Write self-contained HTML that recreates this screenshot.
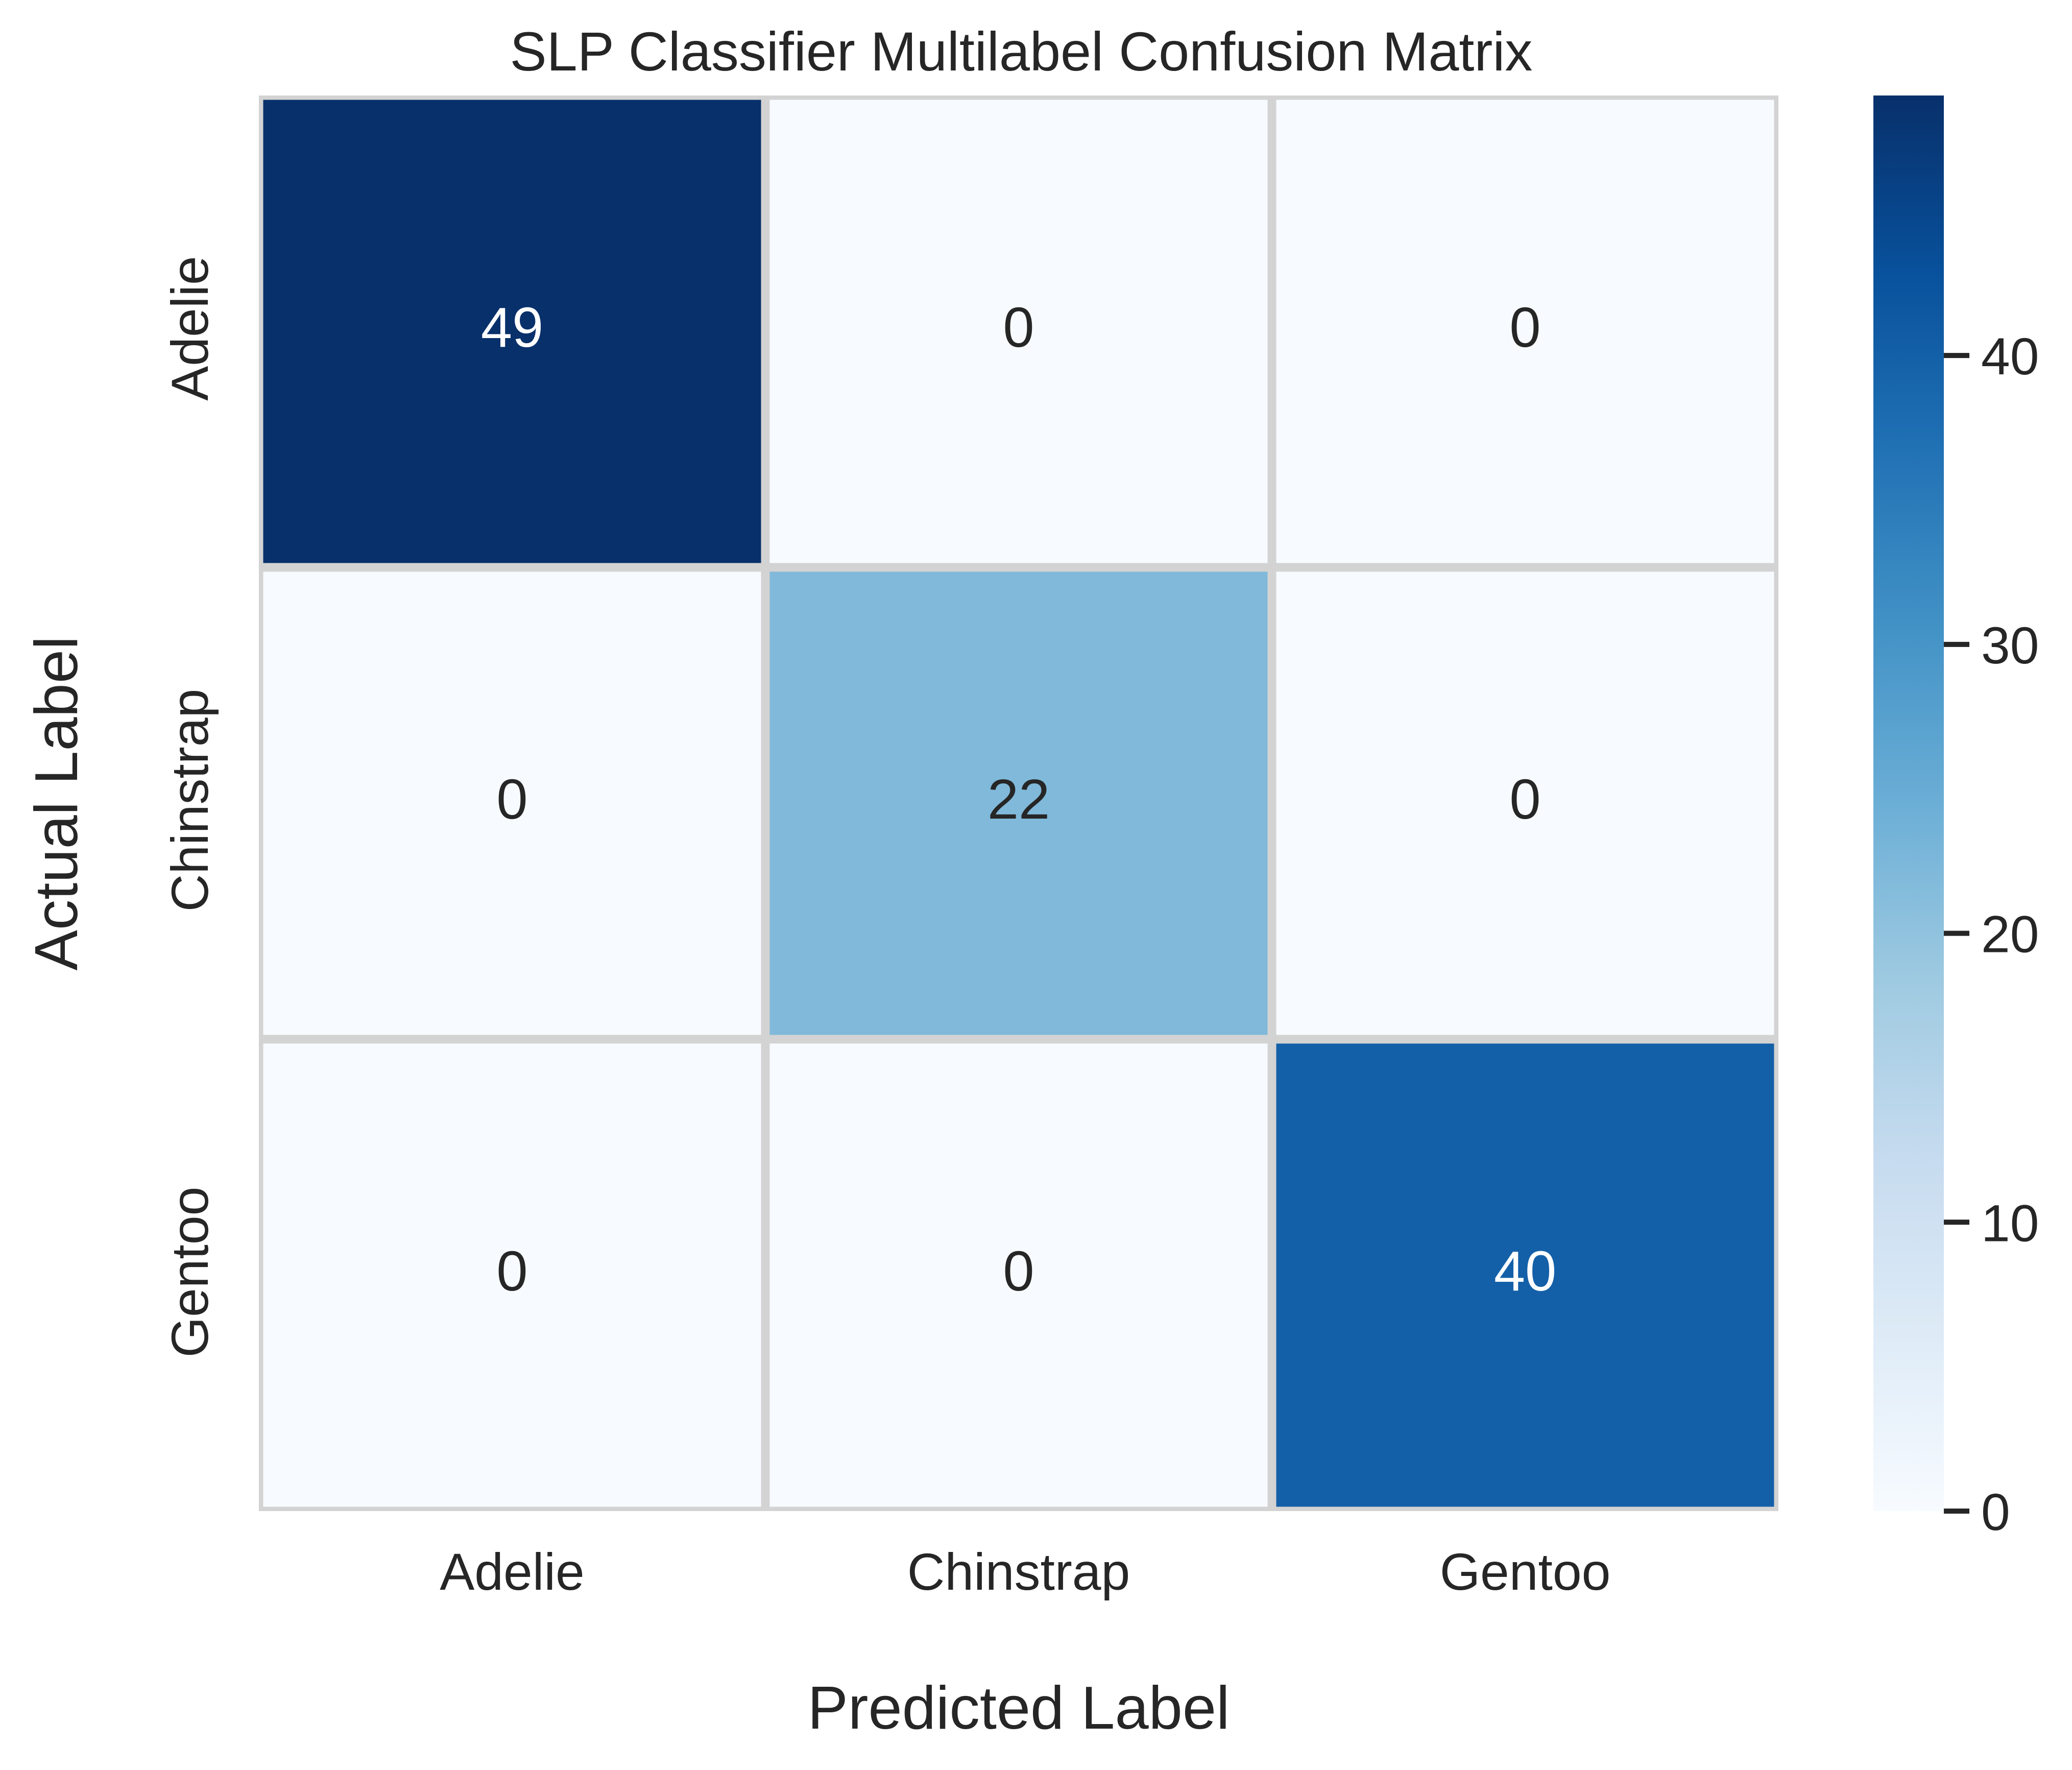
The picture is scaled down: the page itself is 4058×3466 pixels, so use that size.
<!DOCTYPE html>
<html><head><meta charset="utf-8">
<style>
html,body{margin:0;padding:0;background:#fff;}
svg{display:block;}
text{font-family:"Liberation Sans",Arial,sans-serif;fill:#262626;}
</style></head>
<body>
<svg id="chart" xmlns="http://www.w3.org/2000/svg" width="4058" height="3466" viewBox="0 0 4058 3466">
  <rect width="4058" height="3466" fill="#fff"/>
  <text x="2000" y="138" font-size="108" text-anchor="middle">SLP Classifier Multilabel Confusion Matrix</text>
  <defs>
    <clipPath id="axclip"><rect x="507" y="187" width="2976" height="2772"/></clipPath>
    <linearGradient id="cbgrad" x1="0" y1="1" x2="0" y2="0">
      <stop offset="0" stop-color="#f7fbff"/><stop offset="0.125" stop-color="#deebf7"/>
      <stop offset="0.25" stop-color="#c6dbef"/><stop offset="0.375" stop-color="#9ecae1"/>
      <stop offset="0.5" stop-color="#6baed6"/><stop offset="0.625" stop-color="#4292c6"/>
      <stop offset="0.75" stop-color="#2171b5"/><stop offset="0.875" stop-color="#08519c"/>
      <stop offset="1" stop-color="#08306b"/>
    </linearGradient>
  </defs>
  <g id="cells" clip-path="url(#axclip)"></g>
  <g id="annots"></g>
  <g id="xticks"></g>
  <g id="yticks"></g>
  <text x="1995" y="3385" font-size="119" text-anchor="middle">Predicted Label</text>
  <text transform="translate(151,1573) rotate(-90)" font-size="119" text-anchor="middle">Actual Label</text>
  <rect x="3669" y="187" width="138" height="2772" fill="url(#cbgrad)"/>
  <g id="cbticks"></g>
</svg>
<script>
const categories = ["Adelie", "Chinstrap", "Gentoo"];
const row0 = [49, 0, 0];
const row1 = [0, 22, 0];
const row2 = [0, 0, 40];
const matrix = [row0, row1, row2];
const cbTicks = [0, 10, 20, 30, 40];
const vmin = 0;
const vmax = 49;

const NS = "http://www.w3.org/2000/svg";
const ax = {left: 507, top: 187, right: 3483, bottom: 2959};
const colW = (ax.right - ax.left) / categories.length;
const rowH = (ax.bottom - ax.top) / categories.length;
const xPos = i => ax.left + i * colW;
const yPos = i => ax.top + i * rowH;
const cb = {top: 187, bottom: 2959, right: 3807};
const cbY = v => cb.bottom - (v - vmin) / (vmax - vmin) * (cb.bottom - cb.top);

const stops = ["#f7fbff","#deebf7","#c6dbef","#9ecae1","#6baed6","#4292c6","#2171b5","#08519c","#08306b"].map(h => [1,3,5].map(k => parseInt(h.substr(k,2),16)));
function blues(v){
  let t = Math.max(0, Math.min(1, (v - vmin) / (vmax - vmin))) * (stops.length - 1);
  let i = Math.min(Math.floor(t), stops.length - 2), f = t - i;
  const c = stops[i].map((a, k) => Math.round(a + (stops[i+1][k] - a) * f));
  return {css: "rgb(" + c.join(",") + ")", lum: (0.299*c[0] + 0.587*c[1] + 0.114*c[2]) / 255};
}
function mk(tag, attrs, parent){
  const el = document.createElementNS(NS, tag);
  for (const k in attrs) el.setAttribute(k, attrs[k]);
  parent.appendChild(el);
  return el;
}
const cells = document.getElementById("cells");
const annots = document.getElementById("annots");
for (let r = 0; r < matrix.length; r++) {
  for (let c = 0; c < categories.length; c++) {
    const v = matrix[r][c];
    const col = blues(v);
    const rect = mk("rect", {x: xPos(c), y: yPos(r), width: colW, height: rowH, fill: col.css, stroke: "#d3d3d3", "stroke-width": 17}, cells);
    
    
    const t = mk("text", {x: xPos(c) + colW / 2, y: yPos(r) + rowH / 2 + 30, "font-size": 110, "text-anchor": "middle"}, annots);
    t.style.fill = col.lum < 0.5 ? "#ffffff" : "#262626";
    t.textContent = v;
    
    
  }
}
const xt = document.getElementById("xticks");
const yt = document.getElementById("yticks");
categories.forEach((name, i) => {
  const t = mk("text", {x: xPos(i) + colW / 2, y: 3113, "font-size": 102, "text-anchor": "middle"}, xt);
  t.textContent = name;
  
  
  const cy = yPos(i) + rowH / 2 - 6;
  const u = mk("text", {transform: "translate(407," + cy + ") rotate(-90)", "font-size": 102, "text-anchor": "middle"}, yt);
  u.textContent = name;
  
  
});
const cbt = document.getElementById("cbticks");
cbTicks.forEach(v => {
  const y = cbY(v);
  const l = mk("line", {x1: cb.right, x2: cb.right + 50, y1: y, y2: y, stroke: "#262626", "stroke-width": 10}, cbt);
  
  
  const t = mk("text", {x: 3880, y: y + 37, "font-size": 102}, cbt);
  t.textContent = v;
  
  
});
</script>
</body></html>
